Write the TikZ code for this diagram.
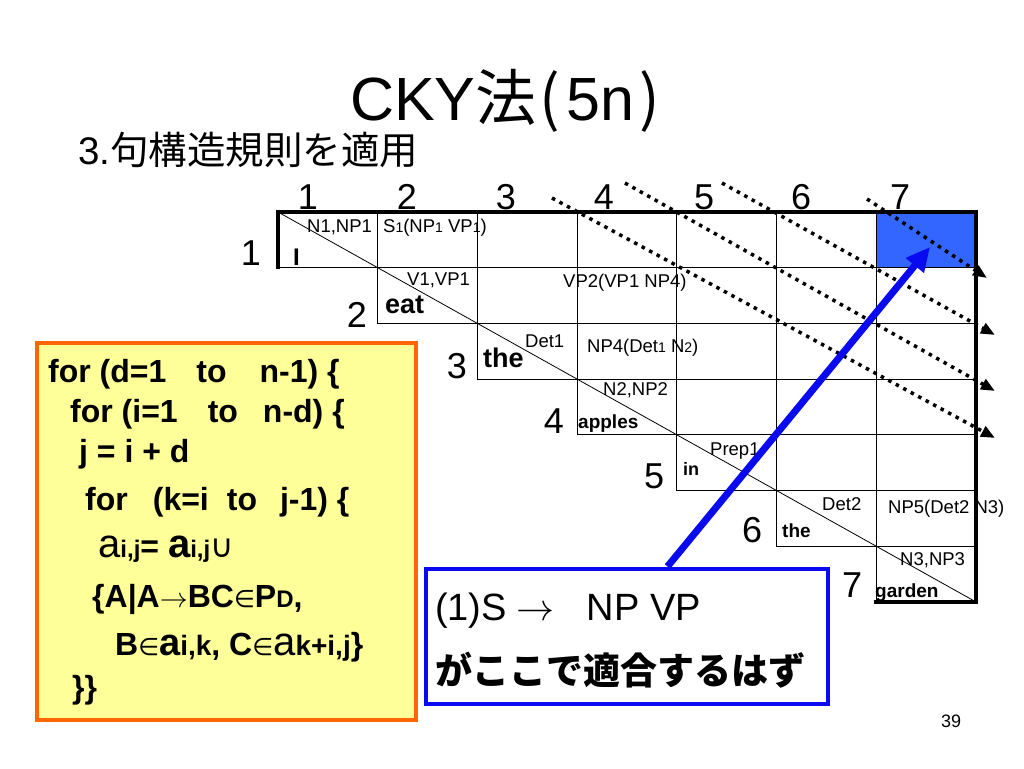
\RequirePackage{fix-cm}
\documentclass[tikz,border=0pt]{standalone}
\usepackage{fontspec}
\usepackage{xcolor}
\usepackage{tikz}
\usetikzlibrary{arrows.meta}
\setmainfont{Liberation Sans}
\newfontfamily\cjk{Noto Sans CJK JP}
\newfontfamily\arrfont{DejaVu Sans}
\definecolor{cellblue}{RGB}{51,102,255}
\definecolor{padyellow}{RGB}{255,255,153}
\definecolor{padorange}{RGB}{255,102,0}
\definecolor{ruleblue}{RGB}{10,10,240}
\newcommand{\fs}[1]{\fontsize{#1}{#1}\selectfont}
\newcommand{\dig}[1]{{\fs{14}#1}}
\newcommand{\ssub}[1]{{\fs{24}#1}}
\newcommand{\lsub}[1]{{\fs{28}#1}}
\newcommand{\elem}{{\arrfont\mdseries\fs{24}∈}}

\begin{document}
\begin{tikzpicture}[
                        x=1pt, y=-1pt,
                        every node/.style={inner sep=0pt},
                        lbl/.style={anchor=base west, font=\fs{18.5}},
                        word/.style={anchor=base west, font=\bfseries\fs{#1}},
                        num/.style={anchor=base, font=\fs{36}},
                        codeline/.style={anchor=base west, font=\bfseries\fs{32}},
                        gridline/.style={line width=1.1pt},
                        frame/.style={line width=3.5pt, line cap=rect},
                        dotline/.style={line width=3.5pt, dash pattern=on 3.5pt off 5pt,
                                -{Triangle[length=14pt,width=11pt]}},
                        hitarrow/.style={ruleblue, line width=7pt,
                                -{Triangle[length=24pt,width=22pt]}},
                    ]

                    \fill[white] (0,0) rectangle (1024,768);
                    \useasboundingbox (0,0) rectangle (1024,768);

                    \node[anchor=base west] (title) at (350,120)
                        {\fs{61}CKY{\cjk 法\hspace{3pt}(}\hspace{6pt}5n\hspace{5pt}{\cjk )}};
                    \node[anchor=base west] (step3) at (78,164) {\fs{38.5}3.{\cjk 句構造規則を適用}};

                    \begin{scope}[shift={(278,212)}, x=99.7pt, y=-55.7pt]
                        \fill[cellblue] (6,0) rectangle (7,1);
                        \foreach \i in {1,...,7}{
                                \foreach \j in {\i,...,7}{
                                        \draw[gridline] (\j-1,\i-1) rectangle (\j,\i);
                                    }
                            }
                        \draw[line width=0.8pt] (0,0) -- (7,7);
                        \draw[frame] (0,1) -- (0,0) -- (7,0) -- (7,7) -- (6,7);
                    \end{scope}

                    \foreach \n/\x in {1/308,2/407,3/506,4/604,5/704,6/801,7/900}{
                            \node[num] (c\n) at (\x,209) {\n};
                        }

                    \foreach \n/\x/\y in {1/251/265,2/357/327,3/457/378,4/554/433,5/654/488,6/752/542,7/852/597}{
                            \node[num] (r\n) at (\x,\y) {\n};
                        }

                    \node[lbl] (n11) at (307,232) {N1,NP1};
                    \node[lbl] (s12) at (383,232) {S\dig{1}(NP\dig{1} VP\dig{1})};
                    \node[word=24] (w1) at (293,265) {I};
                    \node[lbl] (v22) at (407,285) {V1,VP1};
                    \node[word=27] (w2) at (385,313) {eat};
                    \node[lbl] (vp24) at (563,287) {VP2(VP1 NP4)};
                    \node[lbl] (d33) at (525,347) {Det1};
                    \node[word=27] (w3) at (483,367) {the};
                    \node[lbl] (np34) at (587,352) {NP4(Det\dig{1} N\dig{2})};
                    \node[lbl] (n44) at (603,395) {N2,NP2};
                    \node[word=19] (w4) at (578,428) {apples};
                    \node[lbl] (p55) at (710,455) {Prep1};
                    \node[word=18] (w5) at (683,475) {in};
                    \node[lbl] (d66) at (822,510) {Det2};
                    \node[word=19] (w6) at (782,537) {the};
                    \node[lbl] (np67) at (888,513) {NP5(Det2 N3)};
                    \node[lbl] (n77) at (900,565) {N3,NP3};
                    \node[word=19] (w7) at (875,597) {garden};

                    \foreach \sx/\sy/\ex/\ey in {867/199/987/278,722/183/995/335,625/183/995/391,552/198/995/438}{
                            \draw[dotline] (\sx,\sy) -- (\ex,\ey);
                        }

                    \node[draw=padorange, fill=padyellow, line width=4pt,
                        minimum width=379pt, minimum height=377pt] (algo) at (226.5,531.5) {};
                    \node[codeline] (l1) at (48,382) {for (d=1\hspace{30pt}to\hspace{33pt}n-1) \{};
                    \node[codeline] (l2) at (70,422) {for (i=1\hspace{30pt}to\hspace{25pt}n-d) \{};
                    \node[codeline] (l3) at (79,462) {j = i + d};
                    \node[codeline] (l4) at (85,510) {for\hspace{25pt}(k=i\hspace{18pt}to\hspace{23pt}j-1) \{};
                    \node[codeline] (l5) at (98,557) {{\mdseries\fs{40}a}\ssub{i,j}= {\fs{40}a}\ssub{i,j}{\arrfont\mdseries ∪}};
                    \node[codeline] (l6) at (92,607) {\{A|A{\fs{28}$\rightarrow$}BC\elem P{\fs{24}D},};
                    \node[codeline] (l7) at (115,655) {B\elem{\fs{38}a}\lsub{i,k}, C\elem{\mdseries\fs{40}a}\lsub{k+i,j}\}};
                    \node[codeline] (l8) at (72,698) {\}\}};

                    \coordinate (hit) at (930,247);
                    \node[draw=ruleblue, fill=white, line width=4pt,
                        minimum width=402pt, minimum height=135pt] (rule) at (626.5,636) {};
                    \draw[hitarrow] ([xshift=41pt]rule.north) -- (hit);
                    \node[anchor=base west, font=\fs{38}] (rl1) at (435,620)
                        {(1)S\hspace{10pt}$\rightarrow$\hspace{32pt}NP VP};
                    \node[anchor=base west, font=\fs{37}] (rl2) at (435,684) {\cjk\bfseries がここで適合するはず};

                    \node[anchor=base, font=\fs{18}] (page) at (951,727) {39};
                \end{tikzpicture}
\end{document}
